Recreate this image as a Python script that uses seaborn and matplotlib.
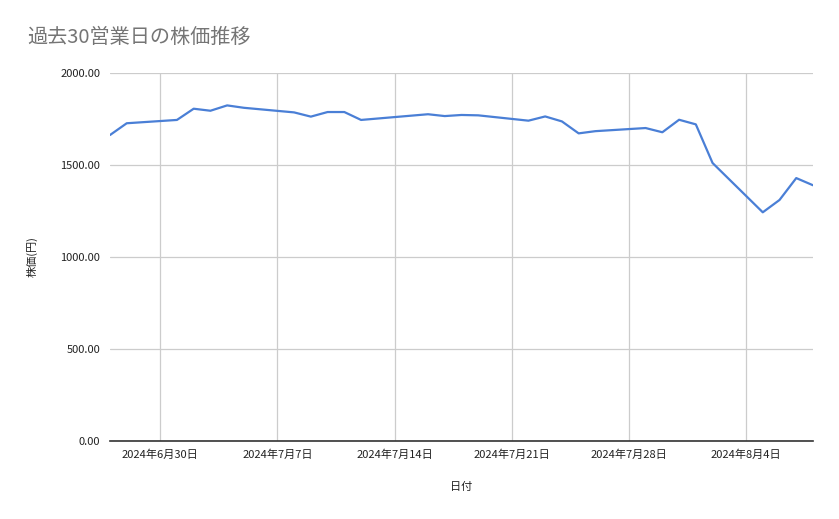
import pandas as pd
import seaborn as sns
import matplotlib.pyplot as plt
import matplotlib.ticker as mticker

# 過去30営業日 (7/15 海の日は休場)
dates = ["2024-06-27", "2024-06-28",
         "2024-07-01", "2024-07-02", "2024-07-03", "2024-07-04", "2024-07-05",
         "2024-07-08", "2024-07-09", "2024-07-10", "2024-07-11", "2024-07-12",
         "2024-07-16", "2024-07-17", "2024-07-18", "2024-07-19",
         "2024-07-22", "2024-07-23", "2024-07-24", "2024-07-25", "2024-07-26",
         "2024-07-29", "2024-07-30", "2024-07-31", "2024-08-01", "2024-08-02",
         "2024-08-05", "2024-08-06", "2024-08-07", "2024-08-08"]
prices = [1663, 1727,
          1745, 1806, 1795, 1824, 1811,
          1786, 1763, 1788, 1788, 1745,
          1776, 1766, 1772, 1770,
          1741, 1764, 1737, 1672, 1684,
          1701, 1678, 1746, 1721, 1511,
          1243, 1310, 1429, 1390]
tick_dates = ["2024-06-30", "2024-07-07", "2024-07-14", "2024-07-21", "2024-07-28", "2024-08-04"]

df = pd.DataFrame({"日付": pd.to_datetime(dates), "株価(円)": prices})

sns.set_theme(style="white")
plt.rcParams['font.family'] = ['Noto Sans CJK JP', 'DejaVu Sans']

fig = plt.figure(figsize=(8.39, 5.19), dpi=100)
ax = fig.add_axes([0.1311, 0.1503, 0.969 - 0.1311, 0.8593 - 0.1503])

sns.lineplot(data=df, x="日付", y="株価(円)", ax=ax, color="#4a7fd6", linewidth=1.6)

ax.set_xlim(pd.Timestamp("2024-06-27"), pd.Timestamp("2024-08-08"))
ax.set_ylim(0, 2000)
ax.yaxis.set_major_locator(mticker.MultipleLocator(500))
ax.yaxis.set_major_formatter(mticker.FormatStrFormatter("%.2f"))
ticks = pd.to_datetime(tick_dates)
ax.set_xticks(ticks)
ax.set_xticklabels([f"{d.year}年{d.month}月{d.day}日" for d in ticks])

ax.grid(True, color="#cccccc", linewidth=0.9)
for s in ["top", "right", "left"]:
    ax.spines[s].set_visible(False)
ax.spines["bottom"].set_color("#333333")
ax.spines["bottom"].set_linewidth(1.2)
ax.tick_params(axis="both", length=0, labelsize=8, colors="#222222")
ax.tick_params(axis="x", pad=6)
ax.tick_params(axis="y", pad=7)

ax.set_xlabel("日付", fontsize=8, color="#222222", labelpad=16)
ax.set_ylabel("株価(円)", fontsize=8, color="#222222", labelpad=16)

fig.text(0.032, 0.927, "過去30営業日の株価推移", fontsize=14.5, color="#757575",
         ha="left", va="center")

fig.savefig("out.png", dpi=100, facecolor="white")
